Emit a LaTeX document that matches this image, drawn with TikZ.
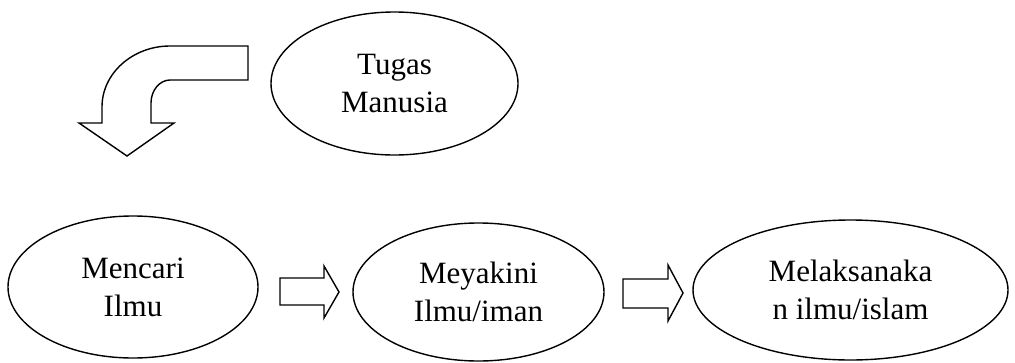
\documentclass[tikz,border=0pt]{standalone}
\usepackage{fontspec}
\setmainfont{Liberation Serif}
\usetikzlibrary{shapes.geometric}
\tikzset{
  oval/.style={ellipse, draw=black, line width=1.4pt, inner sep=0pt, align=center,
    font=\fontsize{31}{38}\selectfont},
  blockarrow/.style={draw=black, line width=1.4pt, fill=white, line join=miter}
}
\begin{document}
\begin{tikzpicture}[x=1pt,y=-1pt]
\useasboundingbox (0,0) rectangle (1015,362);
\node[oval, minimum width=247pt, minimum height=143pt] (tugas) at (394.5,83.5) {Tugas\\Manusia};
\node[oval, minimum width=250pt, minimum height=142pt] (mencari) at (133,287) {Mencari\\Ilmu};
\node[oval, minimum width=251pt, minimum height=138pt] (meyakini) at (478.5,292) {Meyakini\\Ilmu/iman};
\node[oval, minimum width=315pt, minimum height=140pt] (melaksanakan) at (850.5,290) {Melaksanaka\\n ilmu/islam};
% bent arrow
\draw[blockarrow] (248,46) -- (170,46) .. controls (133,46) and (102,73) .. (102,107)
  -- (102,123) -- (79,123) -- (127,156) -- (174,123) -- (151,123) -- (151,103)
  .. controls (151,90) and (160,80) .. (170,80) -- (248,80) -- cycle;
% block arrows
\draw[blockarrow] (280,278) -- (324,278) -- (324,266) -- (339,292) -- (324,318) -- (324,305) -- (280,305) -- cycle;
\draw[blockarrow] (623,279) -- (668,279) -- (668,265) -- (683,293) -- (668,321) -- (668,308) -- (623,308) -- cycle;
\end{tikzpicture}
\end{document}
